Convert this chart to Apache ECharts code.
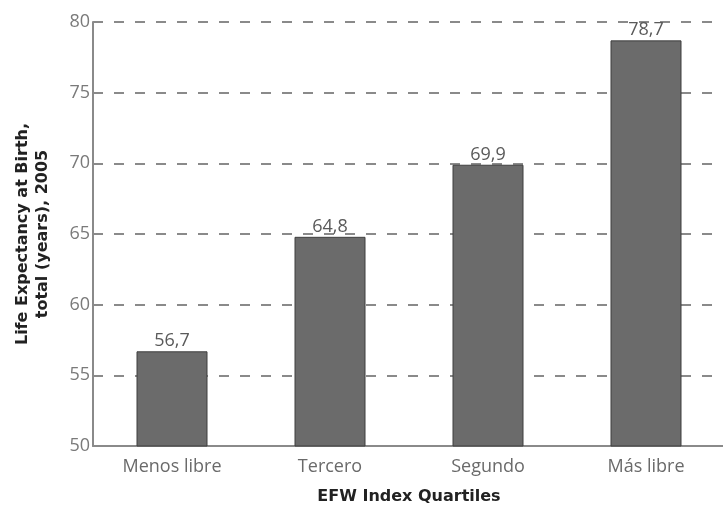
<!DOCTYPE html>
<html lang="es">
<head>
    <meta charset="UTF-8">
    <title>Life Expectancy by EFW Quartile</title>
    <script type="text/javascript" src="https://cdn.jsdelivr.net/npm/echarts@6/dist/echarts.min.js"></script>
    <style>
        html, body { margin: 0; padding: 0; background: #fff; }
        #main { width: 723px; height: 509px; }
    </style>
</head>
<body>
<div id="main"></div>
<script>
    // categorías y valores
    const quartiles = ['Menos libre', 'Tercero', 'Segundo', 'Más libre'];
    const lifeExpectancy = [56.7, 64.8, 69.9, 78.7];
    const yTicks = [50, 55, 60, 65, 70, 75, 80];

    const chart = echarts.init(document.getElementById('main'));
    const labelFont = 'Open Sans, Noto Sans, sans-serif';
    const titleFont = 'DejaVu Sans, sans-serif';

    const option = {
        backgroundColor: '#fff',
        grid: {
            left: 93,
            top: 22,
            width: 632,
            height: 424,
            containLabel: false,
            outerBoundsMode: 'none'
        },
        xAxis: {
            type: 'category',
            data: quartiles,
            name: 'EFW Index Quartiles',
            nameLocation: 'middle',
            nameGap: 43,
            nameTextStyle: {
                fontFamily: titleFont,
                fontWeight: 'bold',
                fontSize: 16,
                color: '#222'
            },
            axisLine: { lineStyle: { color: '#8a8a8a', width: 2 } },
            axisTick: { show: false },
            axisLabel: {
                margin: 12,
                fontFamily: labelFont,
                fontSize: 18,
                color: '#6a6a6a'
            }
        },
        yAxis: {
            type: 'value',
            min: yTicks[0],
            max: yTicks[yTicks.length - 1],
            interval: 5,
            name: 'Life Expectancy at Birth,\ntotal (years), 2005',
            nameLocation: 'middle',
            nameGap: 40,
            nameTextStyle: {
                fontFamily: titleFont,
                fontWeight: 'bold',
                fontSize: 16,
                lineHeight: 20,
                color: '#222'
            },
            axisLine: { show: true, lineStyle: { color: '#8a8a8a', width: 2 } },
            axisTick: { show: false },
            axisLabel: {
                margin: 3,
                fontFamily: labelFont,
                fontSize: 18,
                color: '#7a7a7a'
            },
            splitLine: {
                show: true,
                lineStyle: { color: '#8a8a8a', width: 2, type: [10, 11] }
            }
        },
        series: [{
            type: 'bar',
            data: lifeExpectancy,
            barWidth: 71,
            itemStyle: {
                color: '#6b6b6b',
                borderColor: '#3f3f3f',
                borderWidth: 1
            },
            label: {
                show: true,
                position: 'top',
                distance: 1,
                fontFamily: labelFont,
                fontSize: 18,
                color: '#5a5a5a',
                formatter: p => p.value.toFixed(1).replace('.', ',')
            }
        }]
    };
    chart.setOption(option);
</script>
</body>
</html>
